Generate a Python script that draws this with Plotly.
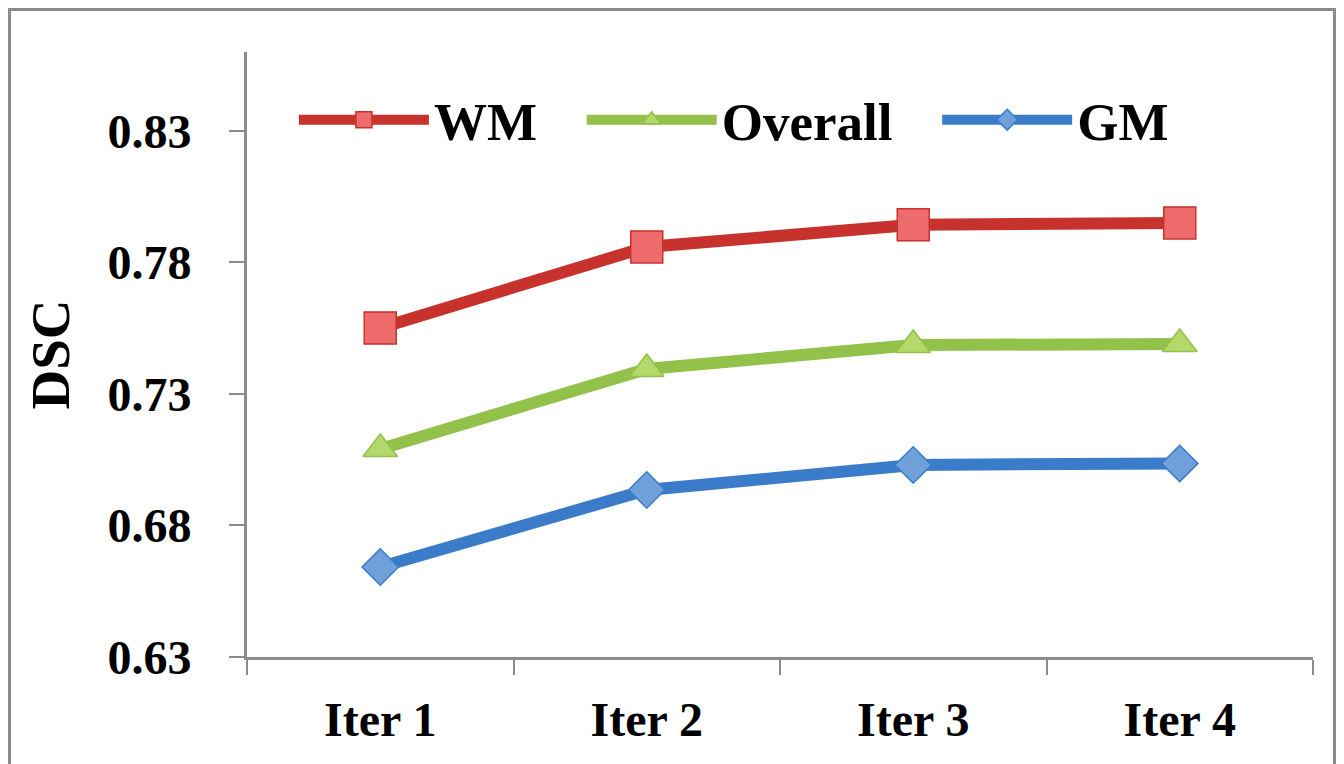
import plotly.graph_objects as go

categories = ["Iter 1", "Iter 2", "Iter 3", "Iter 4"]
wm = [0.7551, 0.7859, 0.7943, 0.7950]
overall = [0.7091, 0.7395, 0.7486, 0.7490]
gm = [0.6642, 0.6935, 0.7030, 0.7036]
y_ticks = [0.63, 0.68, 0.73, 0.78, 0.83]
y_tick_labels = ["0.63", "0.68", "0.73", "0.78", "0.83"]

FONT = "Liberation Serif, Times New Roman, serif"
PAD = "\u00a0\u00a0\u00a0"

series = [
    ("WM", wm, "#C8322D", "#EE6B6B", "square", 32),
    ("Overall", overall, "#92C24A", "#B5D86A", "triangle-up", 30),
    ("GM", gm, "#3A7CC9", "#6FA0DA", "diamond", 28),
]

fig = go.Figure()
for name, vals, lc, mc, sym, sz in series:
    fig.add_trace(go.Scatter(
        x=categories, y=vals, name=name + PAD, mode="lines+markers",
        line=dict(color=lc, width=12),
        marker=dict(symbol=sym, size=sz, color=mc, line=dict(color=lc, width=1.5)),
    ))

W, H = 1328, 756
L, R, T, B = 239, 23, 44, 107
pw, ph = W - L - R, H - T - B

fig.update_layout(
    width=W, height=H,
    margin=dict(l=L, r=R, t=T, b=B),
    paper_bgcolor="white", plot_bgcolor="white",
    font=dict(family=FONT, size=48, color="black", weight="bold"),
    showlegend=True,
    legend=dict(
        orientation="h", x=0.044, y=0.888, xanchor="left", yanchor="middle",
        font=dict(family=FONT, size=53, color="black", weight="bold"),
        itemwidth=130, bgcolor="rgba(0,0,0,0)", tracegroupgap=0,
    ),
    xaxis=dict(
        type="category", tickson="boundaries", ticks="outside", ticklen=15,
        tickcolor="#8c8c8c", tickwidth=2, showline=True, linecolor="#8c8c8c",
        linewidth=3, showgrid=False, zeroline=False, range=[-0.5, 3.5],
        ticklabelstandoff=18,
        tickfont=dict(family=FONT, size=48, color="black", weight="bold"),
    ),
    yaxis=dict(
        range=[0.63, 0.86], tickvals=y_ticks, ticktext=y_tick_labels,
        ticks="outside", ticklen=15, tickcolor="#8c8c8c", tickwidth=2,
        showline=True, linecolor="#8c8c8c", linewidth=3, showgrid=False,
        zeroline=False, ticklabelstandoff=28,
        tickfont=dict(family=FONT, size=48, color="black", weight="bold"),
        title=dict(text="DSC", standoff=21,
                   font=dict(family=FONT, size=55, color="black", weight="bold")),
    ),
    shapes=[dict(type="rect", xref="paper", yref="paper",
                 x0=-(L - 1.5) / pw, x1=1 + (R - 1.5) / pw,
                 y0=-(B + 10) / ph, y1=1 + (T - 1.5) / ph,
                 line=dict(color="#8c8c8c", width=3), fillcolor="rgba(0,0,0,0)", layer="below")],
)

fig.write_html("out.html")
